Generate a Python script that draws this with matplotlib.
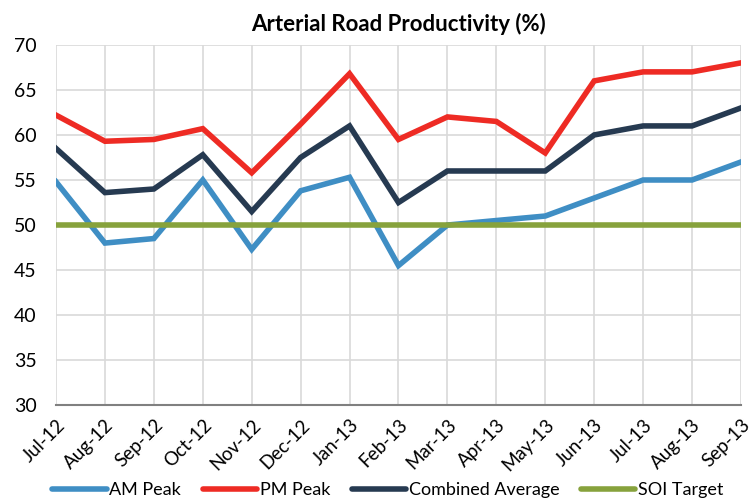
import numpy as np
import matplotlib.pyplot as plt
plt.close('all')
plt.rcParams['font.family'] = ['Lato', 'DejaVu Sans']

months = ["Jul-12", "Aug-12", "Sep-12", "Oct-12", "Nov-12", "Dec-12", "Jan-13",
          "Feb-13", "Mar-13", "Apr-13", "May-13", "Jun-13", "Jul-13", "Aug-13", "Sep-13"]
am_peak = [54.8, 48.0, 48.5, 55.0, 47.3, 53.8, 55.3, 45.5, 50.0, 50.5, 51.0, 53.0, 55.0, 55.0, 57.0]
pm_peak = [62.2, 59.3, 59.5, 60.7, 55.8, 61.2, 66.8, 59.5, 62.0, 61.5, 58.0, 66.0, 67.0, 67.0, 68.0]
combined = [58.5, 53.6, 54.0, 57.8, 51.5, 57.5, 61.0, 52.5, 56.0, 56.0, 56.0, 60.0, 61.0, 61.0, 63.0]
soi_target = [50] * len(months)

fig = plt.figure(figsize=(7.53, 5.04), dpi=100)
ax = fig.add_axes([0.0744, 0.196, 0.9096, 0.715])

x = np.arange(len(months))
lw = 4.0
ax.plot(x, am_peak, color="#3F8EC4", lw=lw, label="AM Peak", solid_joinstyle="miter")
ax.plot(x, pm_peak, color="#EE2B24", lw=lw, label="PM Peak", solid_joinstyle="miter")
ax.plot(x, combined, color="#263A51", lw=lw, label="Combined Average", solid_joinstyle="miter")
ax.plot(x, soi_target, color="#87A23C", lw=lw, label="SOI Target")

ax.set_xlim(0, len(months) - 1)
ax.set_ylim(30, 70)
ax.set_yticks(np.arange(30, 71, 5))
ax.set_xticks(x)
ax.set_xticklabels(months, rotation=45, ha="right", rotation_mode="anchor", fontsize=13.5)
ax.tick_params(axis="y", labelsize=14, length=0, pad=14)
ax.tick_params(axis="x", length=0, pad=8)
ax.grid(True, color="#D9D9D9", lw=1.2)
ax.set_axisbelow(True)
for s in ["left", "right", "top"]:
    ax.spines[s].set_visible(False)
ax.spines["bottom"].set_color("#808080")
ax.spines["bottom"].set_linewidth(1.5)

ax.set_title("Arterial Road Productivity (%)", fontsize=16, fontweight="bold", pad=10)

leg = fig.legend(loc="lower center", bbox_to_anchor=(0.515, -0.02), ncol=4, frameon=False,
                 fontsize=13, handlelength=3.0, handletextpad=0.15, columnspacing=1.2)
for h in leg.get_lines():
    h.set_solid_capstyle("round")

fig.savefig("out.png", dpi=100)
